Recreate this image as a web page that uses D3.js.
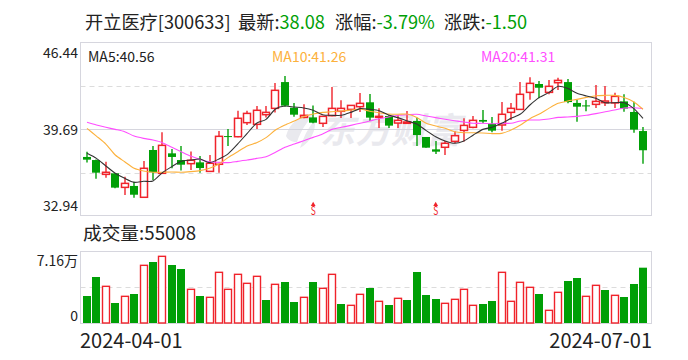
<!DOCTYPE html>
<html>
<head>
<meta charset="utf-8">
<script src="https://cdn.jsdelivr.net/npm/d3@7"></script>
<style>
    html, body { margin: 0; padding: 0; background: #fff; }
    svg { display: block; }
    text { font-family: "Noto Sans CJK SC", "DejaVu Sans", sans-serif; }
</style>
</head>
<body>
<div id="chart"></div>
<script>
// Header and axis labels
const stockName = '开立医疗[300633]';
const latest = '38.08';
const pctChange = '-3.79%';
const change = '-1.50';
const volumeLabel = '成交量:55008';
const priceTicks = [46.44, 39.69, 32.94];
const volumeMax = 71600;
const dateLabels = ['2024-04-01', '2024-07-01'];
const splitMarks = [24, 37];

// Candles
const open = [37.56,37.32,36.21,36.29,35.20,35.31,34.43,38.10,36.29,37.84,37.32,37.04,37.14,36.44,36.99,39.18,39.13,40.22,40.09,40.84,
    41.33,43.37,41.38,40.63,40.63,40.17,40.76,41.10,41.25,41.46,41.80,40.63,40.74,40.19,40.17,40.35,39.11,38.15,38.31,38.77,
    39.62,39.86,40.43,40.14,40.04,41.02,41.25,42.57,43.22,42.57,43.32,43.37,41.75,41.56,41.64,41.77,41.75,41.87,41.05,39.57];
const close = [37.35,36.34,36.37,35.18,35.51,34.63,36.68,36.37,38.46,37.56,36.96,37.30,36.70,37.07,39.16,39.16,40.56,40.94,41.18,41.02,
    42.73,41.54,40.84,40.79,40.22,40.71,41.33,41.33,41.56,41.72,40.61,40.71,39.99,40.40,40.27,39.26,38.28,37.97,38.62,39.21,
    40.01,40.40,40.30,39.60,40.87,41.33,42.42,43.27,42.93,43.04,43.50,41.82,41.46,41.54,41.87,41.90,42.26,41.31,39.68,38.08];
const high = [37.97,37.37,37.19,36.29,36.03,35.64,37.25,38.41,39.47,38.18,38.41,37.99,37.63,37.71,39.57,39.73,41.15,41.15,41.51,41.51,
    43.30,43.84,41.75,41.64,41.56,40.71,42.98,41.95,41.56,42.52,42.44,41.33,40.81,40.81,41.12,40.61,39.11,38.80,38.80,39.55,
    40.56,40.74,41.20,40.66,41.82,41.75,43.37,43.74,43.45,43.53,43.71,43.61,41.98,41.98,43.14,43.06,42.55,42.42,41.85,39.88];
const low = [37.12,35.87,35.95,35.13,34.61,34.40,34.43,35.77,36.24,36.68,36.50,36.55,36.34,36.44,36.34,38.41,39.08,40.04,39.73,40.63,
    41.00,41.46,40.68,40.56,40.17,39.88,40.71,40.58,40.58,41.05,40.35,39.81,39.81,39.81,40.17,38.41,38.28,37.79,37.71,38.62,
    38.75,39.78,40.17,39.47,39.60,40.43,41.20,42.00,42.11,42.42,42.75,41.72,40.30,41.10,41.36,41.51,41.36,41.07,39.44,37.04];

// Moving averages
const ma5 = [37.84,37.45,36.86,36.29,35.90,35.59,35.67,35.69,36.34,36.81,37.22,37.32,37.40,37.12,37.40,37.82,38.57,39.39,40.17,40.48,
    41.28,41.51,41.43,41.36,41.18,40.84,40.79,40.79,41.02,41.31,41.25,41.15,40.81,40.61,40.35,40.12,39.60,39.13,38.80,38.62,
    38.80,39.26,39.70,39.86,40.17,40.56,40.89,41.59,42.18,42.55,43.04,42.88,42.50,42.29,42.11,41.77,41.77,41.77,41.33,40.56];
const ma10 = [39.78,39.18,38.56,37.71,37.19,36.68,36.47,36.37,36.37,36.39,36.37,36.42,36.50,36.68,37.01,37.53,37.97,38.41,38.67,39.06,
    39.65,40.04,40.35,40.68,40.89,41.02,41.07,41.12,41.20,41.28,41.10,40.99,40.89,40.87,40.89,40.63,40.17,39.96,39.78,39.52,
    39.44,39.44,39.42,39.37,39.39,39.65,40.04,40.53,40.89,41.33,41.72,41.90,42.03,42.18,42.31,42.34,42.34,42.18,41.85,41.26];
const ma20 = [40.25,40.04,39.86,39.70,39.52,39.18,39.00,38.87,38.67,38.31,37.97,37.63,37.37,37.19,37.14,37.12,37.22,37.32,37.45,37.58,
    37.92,38.31,38.56,38.82,39.08,39.34,39.70,39.86,40.01,40.17,40.35,40.53,40.66,40.79,40.84,40.87,40.74,40.61,40.48,40.37,
    40.27,40.17,40.17,40.14,40.17,40.17,40.35,40.43,40.43,40.50,40.63,40.66,40.71,40.79,40.92,41.07,41.20,41.36,41.38,41.31];

// Volume, with the colour of each bar (1 = red outline, 0 = green fill)
const volume = [26850,45750,36470,19890,26520,28840,57350,60660,66300,57680,53700,33480,26850,25530,50390,33480,48400,39450,46410,22870,
    38450,40770,20880,25530,40770,34480,48400,18900,17570,28510,34810,21550,17900,24530,22870,50720,27850,23870,19560,23540,
    33480,17570,18900,21880,50390,21550,40440,35470,28840,12600,30500,41770,44750,26520,37460,32820,27510,25860,38790,55008];
const volumeUp = [0,0,1,0,1,0,1,0,1,0,0,1,0,1,1,1,1,1,1,0,
    1,0,0,1,0,1,1,0,1,1,0,1,0,1,0,0,0,0,1,1,
    1,1,0,0,1,1,1,1,0,1,1,0,0,1,1,0,1,0,0,0];

const RED = '#f0232b';
const GREEN = '#009f06';
const FRAME = '#d6d6de';
const days = d3.range(open.length);

const svg = d3.select('#chart').append('svg')
    .attr('width', 688)
    .attr('height', 360);

drawHeader();
drawWatermark();
drawPricePanel();
drawVolumePanel();

// Title row, with the latest quote in green
function drawHeader() {
    const title = svg.append('text')
        .attr('x', 85)
        .attr('y', 29)
        .attr('font-size', 18.2)
        .attr('fill', '#222');
    title.append('tspan').text(stockName);
    title.append('tspan').attr('x', 238).text('最新:');
    title.append('tspan').attr('fill', GREEN).text(latest);
    title.append('tspan').attr('x', 335).text('涨幅:');
    title.append('tspan').attr('fill', GREEN).text(pctChange);
    title.append('tspan').attr('x', 444).text('涨跌:');
    title.append('tspan').attr('fill', GREEN).text(change);
}

// Grey logo and brand name behind the candles
function drawWatermark() {
    const logo = svg.append('g').attr('fill', '#e9e9ee');
    logo.append('path').attr('d', 'M286,136 C290,122 300,115 314,114 C307,122 301,130 297,142 C292,142 288,140 286,136 Z');
    logo.append('path').attr('d', 'M300,148 C304,136 308,128 315,120 C316,130 311,142 300,148 Z');

    svg.append('text')
        .attr('x', 320)
        .attr('y', 143)
        .attr('font-size', 35)
        .attr('font-weight', 700)
        .attr('font-style', 'italic')
        .attr('letter-spacing', 0.5)
        .attr('fill', '#e9e9ee')
        .text('东方财富');
}

function drawPricePanel() {
    const x = d3.scaleLinear().domain([0, 59]).range([87, 643]);
    const y = d3.scaleLinear().domain([32.94, 46.44]).range([216.5, 42.5]);

    const frame = { left: 80.5, right: 651.5, top: 42.5, bottom: 215.5 };

    // Dashed quarter lines and the solid middle line
    svg.selectAll('.price-grid')
        .data([y.invert(86), y.invert(173)])
        .enter().append('line')
        .attr('x1', frame.left).attr('x2', frame.right)
        .attr('y1', d => Math.round(y(d)) + 0.5).attr('y2', d => Math.round(y(d)) + 0.5)
        .attr('stroke', '#dcdcdc')
        .attr('stroke-dasharray', '5,4');
    svg.append('line')
        .attr('x1', frame.left).attr('x2', frame.right)
        .attr('y1', 129.5).attr('y2', 129.5)
        .attr('stroke', FRAME);
    svg.append('rect')
        .attr('x', frame.left).attr('y', frame.top)
        .attr('width', frame.right - frame.left).attr('height', frame.bottom - frame.top)
        .attr('fill', 'none')
        .attr('stroke', FRAME);

    // Price labels sit inside the panel's height, right aligned to the frame
    svg.selectAll('.price-tick')
        .data(priceTicks)
        .enter().append('text')
        .attr('x', 78)
        .attr('y', (d, i) => [58, 135, 210.5][i])
        .attr('text-anchor', 'end')
        .attr('font-size', 14)
        .attr('fill', '#222')
        .text(d => d.toFixed(2));

    // Wicks
    svg.selectAll('.wick')
        .data(days)
        .enter().append('line')
        .attr('x1', d => Math.round(x(d))).attr('x2', d => Math.round(x(d)))
        .attr('y1', d => y(high[d])).attr('y2', d => y(low[d]))
        .attr('stroke', d => close[d] > open[d] ? RED : GREEN)
        .attr('stroke-width', 1.4);

    // Bodies: hollow red for up days, solid green for down days
    svg.selectAll('.body')
        .data(days)
        .enter().append('rect')
        .attr('x', d => Math.round(x(d)) - (close[d] > open[d] ? 3.5 : 4))
        .attr('width', d => close[d] > open[d] ? 7 : 8)
        .attr('y', d => y(Math.max(open[d], close[d])))
        .attr('height', d => Math.max(1, Math.abs(y(open[d]) - y(close[d]))))
        .attr('fill', d => close[d] > open[d] ? '#fff' : GREEN)
        .attr('stroke', d => close[d] > open[d] ? RED : GREEN)
        .attr('stroke-width', d => close[d] > open[d] ? 1.5 : 0);

    // Moving average lines
    const line = d3.line()
        .x(d => x(d.i))
        .y(d => y(d.v))
        .curve(d3.curveCardinal.tension(0.3));
    [[ma20, '#ff4dff'], [ma10, '#fcb13c'], [ma5, '#333']].forEach(([values, color]) => {
        svg.append('path')
            .datum(values.map((v, i) => ({ i: i, v: v })))
            .attr('fill', 'none')
            .attr('stroke', color)
            .attr('stroke-width', 1.1)
            .attr('d', line);
    });

    // Legend
    svg.selectAll('.ma-legend')
        .data([['MA5:40.56', 88, '#222'], ['MA10:41.26', 272, '#fcb13c'], ['MA20:41.31', 481, '#ff4dff']])
        .enter().append('text')
        .attr('x', d => d[1])
        .attr('y', 62)
        .attr('font-size', 14)
        .attr('fill', d => d[2])
        .text(d => d[0]);

    // S markers: a small triangle over a narrow letter
    svg.selectAll('.split-head')
        .data(splitMarks)
        .enter().append('path')
        .attr('transform', d => `translate(${x(d)},204.5)`)
        .attr('d', d3.symbol(d3.symbolTriangle, 10))
        .attr('fill', RED);
    svg.selectAll('.split')
        .data(splitMarks)
        .enter().append('text')
        .attr('x', d => x(d) - 2.5)
        .attr('y', 215)
        .attr('font-size', 12)
        .attr('textLength', 5)
        .attr('lengthAdjust', 'spacingAndGlyphs')
        .attr('fill', RED)
        .text('S');
}

function drawVolumePanel() {
    const x = d3.scaleLinear().domain([0, 59]).range([87, 643]);
    const y = d3.scaleLinear().domain([0, volumeMax]).range([323, 251]);

    svg.append('text')
        .attr('x', 83)
        .attr('y', 239.5)
        .attr('font-size', 18.7)
        .attr('fill', '#222')
        .text(volumeLabel);

    svg.append('line')
        .attr('x1', 80.5).attr('x2', 651.5)
        .attr('y1', 287.5).attr('y2', 287.5)
        .attr('stroke', '#dcdcdc')
        .attr('stroke-dasharray', '5,4');
    svg.append('rect')
        .attr('x', 80.5).attr('y', 251.5)
        .attr('width', 571).attr('height', 72)
        .attr('fill', 'none')
        .attr('stroke', FRAME);

    svg.selectAll('.bar')
        .data(days)
        .enter().append('rect')
        .attr('x', d => Math.round(x(d)) - (volumeUp[d] ? 3.5 : 4))
        .attr('width', d => volumeUp[d] ? 7 : 8)
        .attr('y', d => y(volume[d]))
        .attr('height', d => 323 - y(volume[d]))
        .attr('fill', d => volumeUp[d] ? '#fff' : GREEN)
        .attr('stroke', d => volumeUp[d] ? RED : 'none')
        .attr('stroke-width', 1.4);

    svg.append('text')
        .attr('x', 78).attr('y', 266)
        .attr('text-anchor', 'end')
        .attr('font-size', 14)
        .attr('fill', '#222')
        .text((volumeMax / 10000).toFixed(2) + '万');
    svg.append('text')
        .attr('x', 78).attr('y', 321)
        .attr('text-anchor', 'end')
        .attr('font-size', 14)
        .attr('fill', '#222')
        .text('0');

    svg.append('text')
        .attr('x', 80).attr('y', 348)
        .attr('font-size', 20)
        .attr('fill', '#222')
        .text(dateLabels[0]);
    svg.append('text')
        .attr('x', 652).attr('y', 348)
        .attr('text-anchor', 'end')
        .attr('font-size', 20)
        .attr('fill', '#222')
        .text(dateLabels[1]);
}
</script>
</body>
</html>
